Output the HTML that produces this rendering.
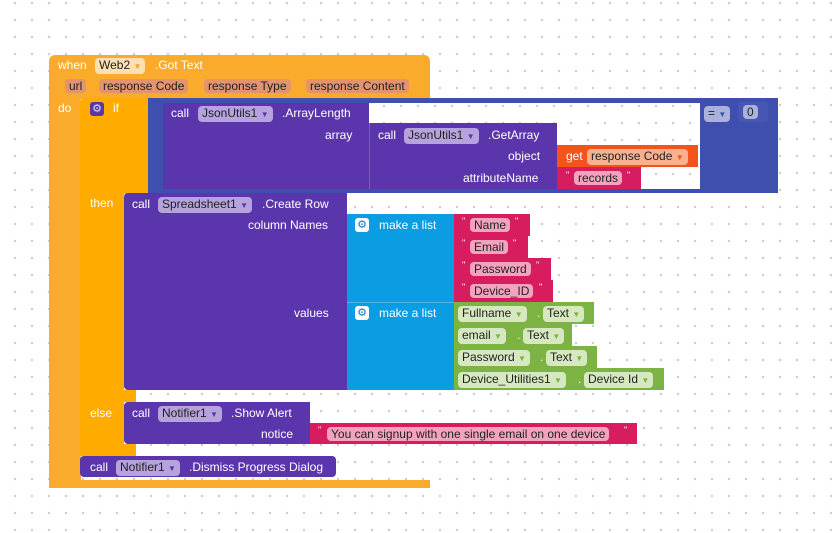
<!DOCTYPE html>
<html><head><meta charset="utf-8"><style>
*{margin:0;padding:0;box-sizing:border-box}
body{width:836px;height:533px;overflow:hidden;position:relative;font-family:"Liberation Sans",sans-serif;font-size:12px;color:#fff;
background-color:#fff;background-image:radial-gradient(circle,#cfcfcf 1.1px,transparent 1.4px);background-size:17px 17px;background-position:6.5px -5.5px}
.b{position:absolute}
.t{position:absolute;white-space:nowrap;line-height:14px}
.c{position:absolute;white-space:nowrap;line-height:14px;border-radius:4px;padding:0 4px;color:#222}
.ev{background:#fbab2b}
.ct{background:#ffab00}
.pu{background:#5b35ac}
.cb{background:#3f4fad}
.li{background:#0a9de2}
.tx{background:#d81c60}
.gr{background:#7cb342}
.gc{background:#d6e8c0}
.tc{background:#f4a3bf}
.q{font-size:9px}
.ic{position:absolute;width:14px;height:14px;background:#fff;border-radius:3px;color:#0a7ad0;font-size:11px;line-height:14px;text-align:center}
</style></head><body>
<!-- event block -->
<div class="b ev" style="left:49px;top:55px;width:381px;height:44px;border-radius:6px 6px 0 0"></div>
<div class="b ev" style="left:49px;top:98px;width:32px;height:390px;border-radius:0 0 0 6px"></div>
<div class="b ev" style="left:49px;top:480px;width:381px;height:8px"></div>
<div class="t" style="left:58px;top:58px">when</div>
<div class="c" style="left:95px;top:58px;background:#fde0b0">Web2 <span style="color:#f5a030;font-size:8px">▼</span></div>
<div class="t" style="left:155px;top:58px">.Got Text</div>
<div class="c" style="left:65px;top:79px;background:#e3936e">url</div>
<div class="c" style="left:99px;top:79px;background:#e3936e">response Code</div>
<div class="c" style="left:204px;top:79px;background:#e3936e">response Type</div>
<div class="c" style="left:306px;top:79px;background:#e3936e">response Content</div>
<div class="t" style="left:58px;top:101px">do</div>
<!-- if block -->
<div class="b ct" style="left:80px;top:98px;width:70px;height:96px;border-radius:6px 0 0 0"></div>
<div class="b ct" style="left:80px;top:192px;width:44px;height:264px;border-radius:0 0 0 6px"></div>
<div class="b ct" style="left:80px;top:390px;width:56px;height:12px"></div>
<div class="b ct" style="left:80px;top:444px;width:56px;height:12px"></div>
<div class="b" style="left:90px;top:102px;width:14px;height:14px;background:#5b35ac;border-radius:3px;color:#e0d4f4;font-size:11px;line-height:14px;text-align:center">⚙</div>
<div class="t" style="left:113px;top:101px">if</div>
<div class="t" style="left:90px;top:196px">then</div>
<div class="t" style="left:90px;top:406px">else</div>
<!-- compare -->
<div class="b cb" style="left:148px;top:98px;width:630px;height:95px"></div>
<div class="b" style="left:369px;top:103px;width:331px;height:86px;background:#fff;background-image:radial-gradient(circle,#cfcfcf 1.1px,transparent 1.4px);background-size:17px 17px;background-position:6.5px -5.5px"></div>
<div class="c" style="left:704px;top:106px;background:#aab2dc">= <span style="color:#3f4fad;font-size:8px">▼</span></div>
<div class="b" style="left:738px;top:102px;width:30px;height:20px;background:#4656b5;border-radius:3px"></div>
<div class="c" style="left:743px;top:105px;background:#aab2dc">0</div>
<!-- ArrayLength -->
<div class="b pu" style="left:163px;top:103px;width:206px;height:86px"></div>
<div class="t" style="left:171px;top:106px">call</div>
<div class="c" style="left:198px;top:106px;background:#b6a2dc">JsonUtils1 <span style="color:#5b35ac;font-size:8px">▼</span></div>
<div class="t" style="left:282px;top:106px">.ArrayLength</div>
<div class="t" style="left:325px;top:128px">array</div>
<!-- GetArray -->
<div class="b pu" style="left:369px;top:123px;width:188px;height:66px;border-left:1px solid #7a5cc0"></div>
<div class="t" style="left:378px;top:128px">call</div>
<div class="c" style="left:404px;top:128px;background:#b6a2dc">JsonUtils1 <span style="color:#5b35ac;font-size:8px">▼</span></div>
<div class="t" style="left:488px;top:128px">.GetArray</div>
<div class="t" style="left:508px;top:149px">object</div>
<div class="t" style="left:463px;top:171px">attributeName</div>
<div class="b" style="left:557px;top:145px;width:141px;height:22px;background:#f4531c"></div>
<div class="t" style="left:566px;top:149px">get</div>
<div class="c" style="left:587px;top:149px;background:#f9b08e">response Code <span style="color:#f4531c;font-size:8px">▼</span></div>
<div class="b tx" style="left:557px;top:167px;width:84px;height:22px"></div>
<div class="t q" style="left:566px;top:168px">"</div>
<div class="c tc" style="left:574px;top:171px">records</div>
<div class="t q" style="left:627px;top:168px">"</div>
<!-- Create Row -->
<div class="b pu" style="left:124px;top:193px;width:223px;height:197px;border-radius:4px 0 0 4px"></div>
<div class="t" style="left:132px;top:197px">call</div>
<div class="c" style="left:158px;top:197px;background:#b6a2dc">Spreadsheet1 <span style="color:#5b35ac;font-size:8px">▼</span></div>
<div class="t" style="left:262px;top:197px">.Create Row</div>
<div class="t" style="left:248px;top:218px">column Names</div>
<div class="t" style="left:294px;top:306px">values</div>
<div class="b li" style="left:347px;top:214px;width:107px;height:176px"></div>
<div class="b" style="left:347px;top:302px;width:107px;height:1px;background:#4fb8ea"></div>
<div class="ic" style="left:355px;top:218px">⚙</div>
<div class="t" style="left:379px;top:218px">make a list</div>
<div class="ic" style="left:355px;top:306px">⚙</div>
<div class="t" style="left:379px;top:306px">make a list</div>
<!-- text items -->
<div class="b tx" style="left:454px;top:214px;width:76px;height:22px"></div>
<div class="t q" style="left:462px;top:214px">"</div><div class="c tc" style="left:470px;top:218px">Name</div><div class="t q" style="left:515px;top:214px">"</div>
<div class="b tx" style="left:454px;top:236px;width:74px;height:22px"></div>
<div class="t q" style="left:462px;top:236px">"</div><div class="c tc" style="left:470px;top:240px">Email</div><div class="t q" style="left:513px;top:236px">"</div>
<div class="b tx" style="left:454px;top:258px;width:97px;height:22px"></div>
<div class="t q" style="left:462px;top:258px">"</div><div class="c tc" style="left:470px;top:262px">Password</div><div class="t q" style="left:536px;top:258px">"</div>
<div class="b tx" style="left:454px;top:280px;width:99px;height:22px"></div>
<div class="t q" style="left:462px;top:280px">"</div><div class="c tc" style="left:470px;top:284px">Device_ID</div><div class="t q" style="left:539px;top:280px">"</div>
<!-- green -->
<div class="b gr" style="left:454px;top:302px;width:140px;height:22px"></div>
<div class="c gc" style="left:458px;top:306px">Fullname <span style="color:#7cb342;font-size:8px">▼</span></div>
<div class="t" style="left:537px;top:306px">.</div>
<div class="c gc" style="left:543px;top:306px">Text <span style="color:#7cb342;font-size:8px">▼</span></div>
<div class="b gr" style="left:454px;top:324px;width:118px;height:22px"></div>
<div class="c gc" style="left:458px;top:328px">email <span style="color:#7cb342;font-size:8px">▼</span></div>
<div class="t" style="left:517px;top:328px">.</div>
<div class="c gc" style="left:523px;top:328px">Text <span style="color:#7cb342;font-size:8px">▼</span></div>
<div class="b gr" style="left:454px;top:346px;width:143px;height:22px"></div>
<div class="c gc" style="left:458px;top:350px">Password <span style="color:#7cb342;font-size:8px">▼</span></div>
<div class="t" style="left:540px;top:350px">.</div>
<div class="c gc" style="left:546px;top:350px">Text <span style="color:#7cb342;font-size:8px">▼</span></div>
<div class="b gr" style="left:454px;top:368px;width:210px;height:22px"></div>
<div class="c gc" style="left:458px;top:372px">Device_Utilities1 <span style="color:#7cb342;font-size:8px">▼</span></div>
<div class="t" style="left:578px;top:372px">.</div>
<div class="c gc" style="left:584px;top:372px">Device Id <span style="color:#7cb342;font-size:8px">▼</span></div>
<!-- Show Alert -->
<div class="b pu" style="left:124px;top:402px;width:186px;height:42px;border-radius:4px 0 0 4px"></div>
<div class="t" style="left:132px;top:406px">call</div>
<div class="c" style="left:158px;top:406px;background:#b6a2dc">Notifier1 <span style="color:#5b35ac;font-size:8px">▼</span></div>
<div class="t" style="left:231px;top:406px">.Show Alert</div>
<div class="t" style="left:261px;top:427px">notice</div>
<div class="b tx" style="left:310px;top:423px;width:327px;height:21px"></div>
<div class="t q" style="left:318px;top:423px">"</div>
<div class="c tc" style="left:327px;top:427px">You can signup with one single email on one device</div>
<div class="t q" style="left:624px;top:423px">"</div>
<!-- Dismiss -->
<div class="b pu" style="left:80px;top:456px;width:256px;height:21px;border-radius:4px"></div>
<div class="t" style="left:90px;top:460px">call</div>
<div class="c" style="left:116px;top:460px;background:#b6a2dc">Notifier1 <span style="color:#5b35ac;font-size:8px">▼</span></div>
<div class="t" style="left:189px;top:460px">.Dismiss Progress Dialog</div>
</body></html>
